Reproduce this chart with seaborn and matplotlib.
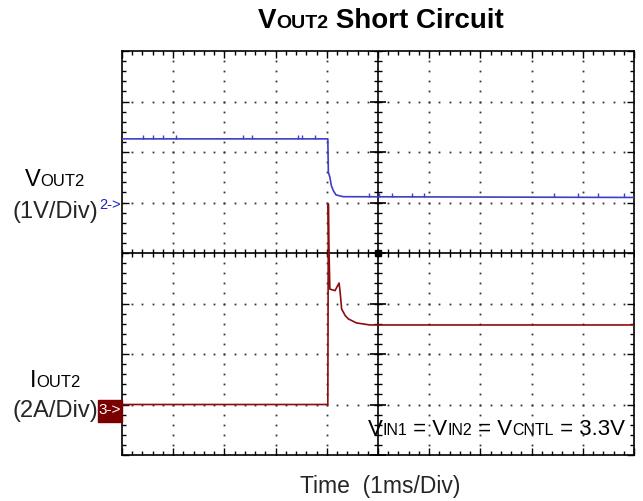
import numpy as np
import pandas as pd
import matplotlib
matplotlib.use("Agg")
import matplotlib.pyplot as plt
import seaborn as sns
from matplotlib.offsetbox import TextArea, HPacker, AnnotationBbox
from matplotlib.patches import Rectangle

# ---------------- data ----------------
# time in ms (1 ms/div), 10 divisions
v_time = [0.0, 4.02, 4.03, 4.06, 4.09, 4.13, 4.18, 4.32, 10.0]
v_out2 = [1.26, 1.26, 0.60, 0.50, 0.33, 0.23, 0.15, 0.115, 0.10]   # volts
i_time = [0.0, 4.02, 4.03, 4.04, 4.06, 4.16, 4.24, 4.26, 4.29, 4.36, 4.42, 4.58, 4.84, 10.0]
i_out2 = [0.0, 0.0, 7.94, 6.36, 4.57, 4.51, 4.81, 4.46, 3.78, 3.52, 3.39, 3.23, 3.15, 3.15]  # amps
v_glitch_t = [0.41, 0.61, 0.80, 1.05, 2.36, 2.54, 3.44, 3.52, 3.77,
              4.82, 5.02, 5.27, 5.66, 5.90, 8.44, 8.90, 9.30, 9.80]

V_PER_DIV = 1.0
A_PER_DIV = 2.0
CH2_REF = 5.0   # division of channel-2 ground marker
CH3_REF = 1.0   # division of channel-3 ground marker

W, H = 643, 502
fx = lambda x: x / W
fy = lambda y: 1 - y / H

sns.set_theme(style="white")
plt.rcParams["font.family"] = ["Liberation Sans", "DejaVu Sans"]

fig = plt.figure(figsize=(W / 100, H / 100), dpi=100)
ax = fig.add_axes([fx(122), fy(456), (634 - 122) / W, (456 - 52) / H])

df_v = pd.DataFrame({"t": v_time, "div": [CH2_REF + v / V_PER_DIV for v in v_out2]})
df_i = pd.DataFrame({"t": i_time, "div": [CH3_REF + a / A_PER_DIV for a in i_out2]})

# dotted grid
xs = np.arange(0, 10.001, 0.2)
ys = np.arange(0, 8.001, 0.2)
for gy in [1, 2, 3, 5, 6, 7]:
    ax.plot(xs, np.full_like(xs, gy), ls="none", marker="s", ms=1.3, color="#333333", mew=0)
for gx in [1, 2, 3, 4, 6, 7, 8, 9]:
    ax.plot(np.full_like(ys, gx), ys, ls="none", marker="s", ms=1.3, color="#333333", mew=0)

# center cross
ax.axhline(4, color="black", lw=1.2, zorder=2)
ax.axvline(5, color="black", lw=1.2, zorder=2)
ax.plot(xs, np.full_like(xs, 4), ls="none", marker="|", ms=6, mew=1.0, color="black")
ax.plot(np.full_like(ys, 5), ys, ls="none", marker="_", ms=6, mew=1.0, color="black")
maj = np.arange(0, 8.001, 1.0)
ax.plot(np.full_like(maj, 5), maj, ls="none", marker="_", ms=11, mew=1.2, color="black")
ax.plot(5, 4, marker="s", ms=4, color="black")

# traces
sns.lineplot(data=df_v, x="t", y="div", ax=ax, sort=False, estimator=None,
             color="#3d3dc8", lw=1.2, zorder=4)
sns.lineplot(data=df_i, x="t", y="div", ax=ax, sort=False, estimator=None,
             color="#8b0d0d", lw=1.2, zorder=4)
gl_div = [np.interp(t, v_time, v_out2) / V_PER_DIV + CH2_REF + 0.04 for t in v_glitch_t]
ax.plot(v_glitch_t, gl_div, ls="none", marker="|", ms=3.5, mew=1.0, color="#3d3dc8", zorder=4)

ax.set_xlim(0, 10)
ax.set_ylim(0, 8)
ax.set_xlabel("")
ax.set_ylabel("")
ax.set_xticks(np.arange(0, 10.001, 1))
ax.set_yticks(np.arange(0, 8.001, 1))
ax.set_xticks(xs, minor=True)
ax.set_yticks(ys, minor=True)
ax.tick_params(which="both", direction="in", top=True, right=True, bottom=True, left=True,
               labelbottom=False, labelleft=False, color="black", width=1.0)
ax.tick_params(which="major", length=5)
ax.tick_params(which="minor", length=3)
for s in ax.spines.values():
    s.set_color("black")
    s.set_linewidth(1.2)


def sub_label(parts, x, y, color="black", weight="normal"):
    kids = [TextArea(t, textprops=dict(fontsize=s, fontweight=weight, color=color,
                                       family=["Liberation Sans", "DejaVu Sans"]))
            for t, s in parts]
    box = HPacker(children=kids, align="baseline", pad=0, sep=0)
    ab = AnnotationBbox(box, (fx(x), fy(y)), xycoords="figure fraction",
                        frameon=False, box_alignment=(0.5, 0.5), pad=0)
    fig.add_artist(ab)


sub_label([("V", 20), ("OUT2", 14), (" Short Circuit", 20)], 381, 21, weight="bold")
sub_label([("V", 17), ("OUT2", 12)], 55, 180)
fig.text(fx(55), fy(212), "(1V/Div)", fontsize=17, ha="center", va="center")
fig.text(fx(99), fy(205), "2->", fontsize=10.5, color="#2020c0", ha="left", va="center")
sub_label([("I", 17), ("OUT2", 12)], 55, 381)
fig.text(fx(55), fy(411), "(2A/Div)", fontsize=17, ha="center", va="center")
fig.add_artist(Rectangle((fx(98), fy(423)), (122 - 98) / W, (423 - 401) / H,
                         transform=fig.transFigure, color="#7a0000", zorder=5))
fig.text(fx(110), fy(410), "3->", fontsize=11, color="white", ha="center", va="center", zorder=6)
sub_label([("V", 16), ("IN1", 11.5), (" = V", 16), ("IN2", 11.5), (" = V", 16), ("CNTL", 11.5),
           (" = 3.3V", 16)], 496, 430)
fig.text(fx(380), fy(487), "Time  (1ms/Div)", fontsize=16.5, ha="center", va="center")

fig.savefig("out.png", dpi=100)
